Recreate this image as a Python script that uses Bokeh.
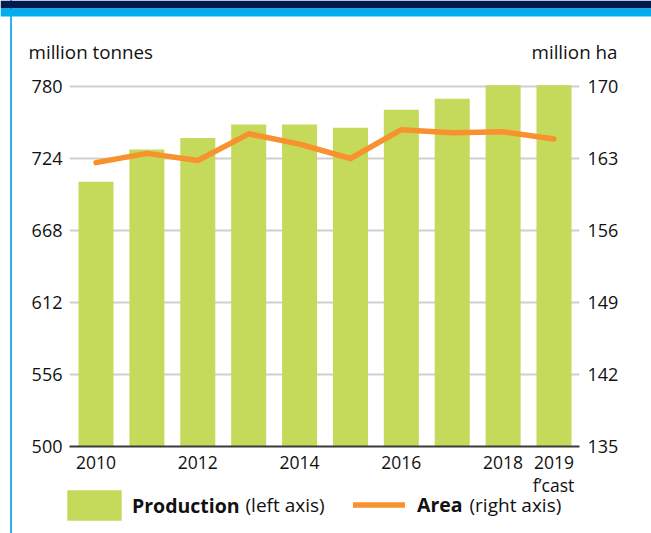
from bokeh.plotting import figure
from bokeh.layouts import column
from bokeh.models import (Range1d, LinearAxis, FixedTicker, Legend, LegendItem,
                          Label, ColumnDataSource)
from bokeh.embed import file_html
from bokeh.resources import INLINE

# ---- data ----
years = [2010, 2011, 2012, 2013, 2014, 2015, 2016, 2017, 2018, 2019]
production = [706, 731, 740, 750.5, 750.5, 748, 762, 770.5, 781, 781]   # million tonnes (left axis)
area = [162.6, 163.5, 162.8, 165.4, 164.4, 163.0, 165.8, 165.5, 165.6, 164.9]  # million ha (right axis)
left_ticks = [500, 556, 612, 668, 724, 780]
right_ticks = [135, 142, 149, 156, 163, 170]
x_ticks = [2010, 2012, 2014, 2016, 2018, 2019]
forecast_note = "f\u2019cast"
left_unit = "million tonnes"
right_unit = "million ha"
series_names = ["Production", "Area"]
series_notes = ["(left axis)", "(right axis)"]

FONT = "Open Sans"
BAR = "#C5D95B"
ORANGE = "#F7922F"
NAVY = "#001B4E"
BLUE = "#00AEEF"
EDGE = "#2AB4E8"
TXT = "#111111"
W = 651


def no_align(f):
    if "frame_align" in f.properties():
        f.frame_align = False


def strip(h):
    f = figure(width=W, height=h, output_backend="svg", toolbar_location=None,
               x_range=Range1d(0, W), y_range=Range1d(h, 0),
               x_axis_type=None, y_axis_type=None, min_border=0)
    no_align(f)
    f.outline_line_color = None
    f.grid.visible = False
    f.background_fill_color = None
    f.border_fill_color = None
    return f


# ---------------- header (bands + unit labels) ----------------
hdr_h = 70
hdr = strip(hdr_h)
hdr.quad(left=0, right=W, top=0, bottom=8, fill_color=NAVY, line_color=None)
hdr.quad(left=0, right=W, top=8, bottom=16, fill_color=BLUE, line_color=None)
hdr.add_layout(Label(x=28, y=51, text=left_unit, text_font=FONT, text_font_size="18.8px",
                     text_color=TXT, text_baseline="middle", text_align="left"))
hdr.add_layout(Label(x=617, y=51, text=right_unit, text_font=FONT, text_font_size="18.8px",
                     text_color=TXT, text_baseline="middle", text_align="right"))

# ---------------- main chart ----------------
main_h = 403
FRAME_TOP, FRAME_BOTTOM = 13, 27   # borders
Y_BOTTOM = 500
Y_TOP = Y_BOTTOM + (main_h - FRAME_TOP - FRAME_BOTTOM) * 280 / 360
R_BOTTOM = 135
R_TOP = R_BOTTOM + (Y_TOP - Y_BOTTOM) * (170 - 135) / (780 - 500)

p = figure(width=W, height=main_h, output_backend="svg", toolbar_location=None,
           x_range=Range1d(2009.479, 2019.501), y_range=Range1d(Y_BOTTOM, Y_TOP),
           min_border_left=69, min_border_right=72,
           min_border_top=FRAME_TOP, min_border_bottom=FRAME_BOTTOM)
no_align(p)
p.extra_y_ranges = {"area": Range1d(R_BOTTOM, R_TOP)}
p.outline_line_color = None
p.background_fill_color = "white"
p.border_fill_color = None

src = ColumnDataSource(dict(year=years, prod=production, area=area))
p.vbar(x="year", top="prod", bottom=Y_BOTTOM, width=0.688, source=src,
       fill_color=BAR, line_color=None)
p.line(x="year", y="area", source=src, y_range_name="area",
       line_color=ORANGE, line_width=5.5, line_cap="round", line_join="round")


def style_axis(ax, standoff, size):
    ax.axis_line_color = None
    ax.major_tick_line_color = None
    ax.minor_tick_line_color = None
    ax.major_tick_out = 0
    ax.major_tick_in = 0
    ax.minor_tick_out = 0
    ax.major_label_standoff = standoff
    ax.major_label_text_font = FONT
    ax.major_label_text_font_size = size
    ax.major_label_text_color = TXT


xa = p.xaxis[0]
xa.ticker = FixedTicker(ticks=x_ticks)
style_axis(xa, 9, "17.5px")
xa.axis_line_color = "#3A3A3A"
xa.axis_line_width = 2

ya = p.yaxis[0]
ya.ticker = FixedTicker(ticks=left_ticks)
style_axis(ya, 7, "18px")

ry = LinearAxis(y_range_name="area", ticker=FixedTicker(ticks=right_ticks))
style_axis(ry, 8, "18px")
p.add_layout(ry, "right")

p.xgrid.grid_line_color = None
p.ygrid.ticker = FixedTicker(ticks=left_ticks)
p.ygrid.grid_line_color = "#CFCFCF"
p.ygrid.grid_line_width = 2

# ---------------- legend strip ----------------
leg_h = 533 - hdr_h - main_h
leg_top = hdr_h + main_h
leg = strip(leg_h)
# legend proxies (kept outside the visible range; only their legend swatches show)
proxy = ColumnDataSource(dict(x=[-100, -90], y=[1, 1]))
k_bar = leg.vbar(x="x", top="y", width=1, source=proxy, fill_color=BAR, line_color=None)
k_line = leg.line(x="x", y="y", source=proxy, line_color=ORANGE, line_width=5.5,
                  line_cap="round")

common = dict(orientation="horizontal", padding=0, margin=0, border_line_color=None,
              background_fill_alpha=0, label_text_font=FONT, label_text_font_style="bold",
              label_text_font_size="19.5px", label_text_color=TXT)
mid = 504.5 - leg_top  # vertical centre of the legend row inside the strip
gw1, gh1 = 68.75, 38.75   # area swatch is drawn with a 10% inset -> 55 x 31
leg.add_layout(Legend(items=[LegendItem(label=series_names[0], renderers=[k_bar])],
                      location=(60, round(leg_h - (mid + gh1 / 2))),
                      glyph_width=int(gw1), glyph_height=int(gh1), label_standoff=4,
                      **common), "center")
gw2, gh2 = 52, 31
leg.add_layout(Legend(items=[LegendItem(label=series_names[1], renderers=[k_line])],
                      location=(353, round(leg_h - (mid + gh2 / 2))),
                      glyph_width=gw2, glyph_height=gh2, label_standoff=12,
                      **common), "center")

leg.add_layout(Label(x=553, y=484.5 - leg_top, text=forecast_note, text_font=FONT,
                     text_font_size="17.5px", text_color=TXT, text_baseline="middle",
                     text_align="center"))
leg.add_layout(Label(x=245, y=mid, text=series_notes[0], text_font=FONT,
                     text_font_size="19px", text_color=TXT, text_baseline="middle"))
leg.add_layout(Label(x=469, y=mid, text=series_notes[1], text_font=FONT,
                     text_font_size="19px", text_color=TXT, text_baseline="middle"))

layout = column(hdr, p, leg, spacing=0,
                styles={"background": "linear-gradient(90deg, white 0px, white 10px, "
                                      + EDGE + " 10px, " + EDGE + " 12px, white 12px)"})

open("out.html", "w").write(file_html(layout, INLINE))
